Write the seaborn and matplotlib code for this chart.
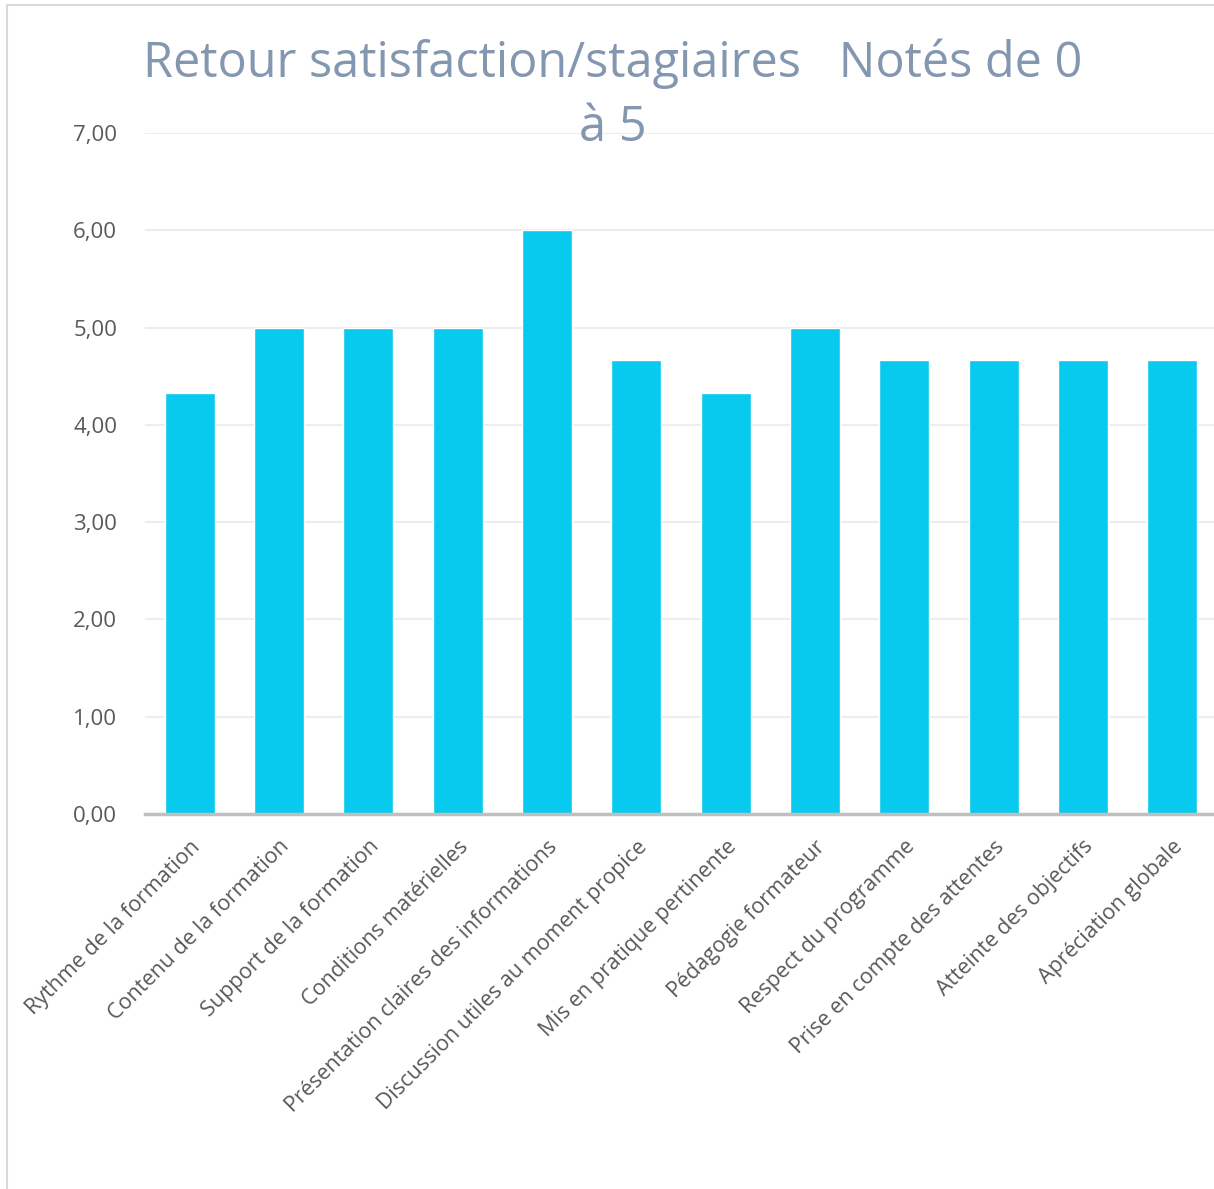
import matplotlib
matplotlib.use("Agg")
import seaborn as sns
import matplotlib.pyplot as plt
import pandas as pd
from matplotlib.patches import Rectangle
from matplotlib.ticker import FuncFormatter

# Données
criteres = [
    "Rythme de la formation",
    "Contenu de la formation",
    "Support de la formation",
    "Conditions matérielles",
    "Présentation claires des informations",
    "Discussion utiles au moment propice",
    "Mis en pratique pertinente",
    "Pédagogie formateur",
    "Respect du programme",
    "Prise en compte des attentes",
    "Atteinte des objectifs",
    "Apréciation globale",
]
notes = [4.33, 5.00, 5.00, 5.00, 6.00, 4.67, 4.33, 5.00, 4.67, 4.67, 4.67, 4.67]

df = pd.DataFrame({"Critère": criteres, "Note": notes})

sns.set_style("white")
plt.rcParams['font.family'] = ['Open Sans', 'DejaVu Sans']

fig = plt.figure(figsize=(12.14, 11.89), dpi=100)
ax = fig.add_axes([145 / 1214, 375 / 1189, 1072 / 1214, 681 / 1189])

sns.barplot(data=df, x="Critère", y="Note", color="#08C9EE", width=0.56,
            saturation=1, ax=ax, zorder=3)

ax.set_ylim(0, 7)
ax.set_yticks(range(0, 8))
ax.yaxis.set_major_formatter(FuncFormatter(lambda v, p: f"{v:.2f}".replace(".", ",")))
ax.grid(axis="y", color="#EDEDED", linewidth=1.5, zorder=0)
ax.set_xlabel("")
ax.set_ylabel("")
for s in ["top", "right", "left"]:
    ax.spines[s].set_visible(False)
ax.spines["bottom"].set_color("#BFBFBF")
ax.spines["bottom"].set_linewidth(2.5)
ax.spines["bottom"].set_zorder(4)
ax.tick_params(axis="both", length=0, labelcolor="#595959")
ax.tick_params(axis="y", labelsize=16, pad=20)
ax.tick_params(axis="x", labelsize=15.5, pad=16)
plt.setp(ax.get_xticklabels(), rotation=45, ha="right", rotation_mode="anchor")

fig.text(0.505, 0.968, "Retour satisfaction/stagiaires   Notés de 0\nà 5",
         ha="center", va="top", fontsize=35, color="#8497B0", linespacing=1.4)

# Cadre du graphique
fig.patches.append(Rectangle((7 / 1214, -0.01), 1.0, 1 - 5 / 1189 + 0.01,
                             transform=fig.transFigure, fill=False,
                             edgecolor="#D9D9D9", linewidth=1.5))

fig.savefig("out.png", dpi=100)
